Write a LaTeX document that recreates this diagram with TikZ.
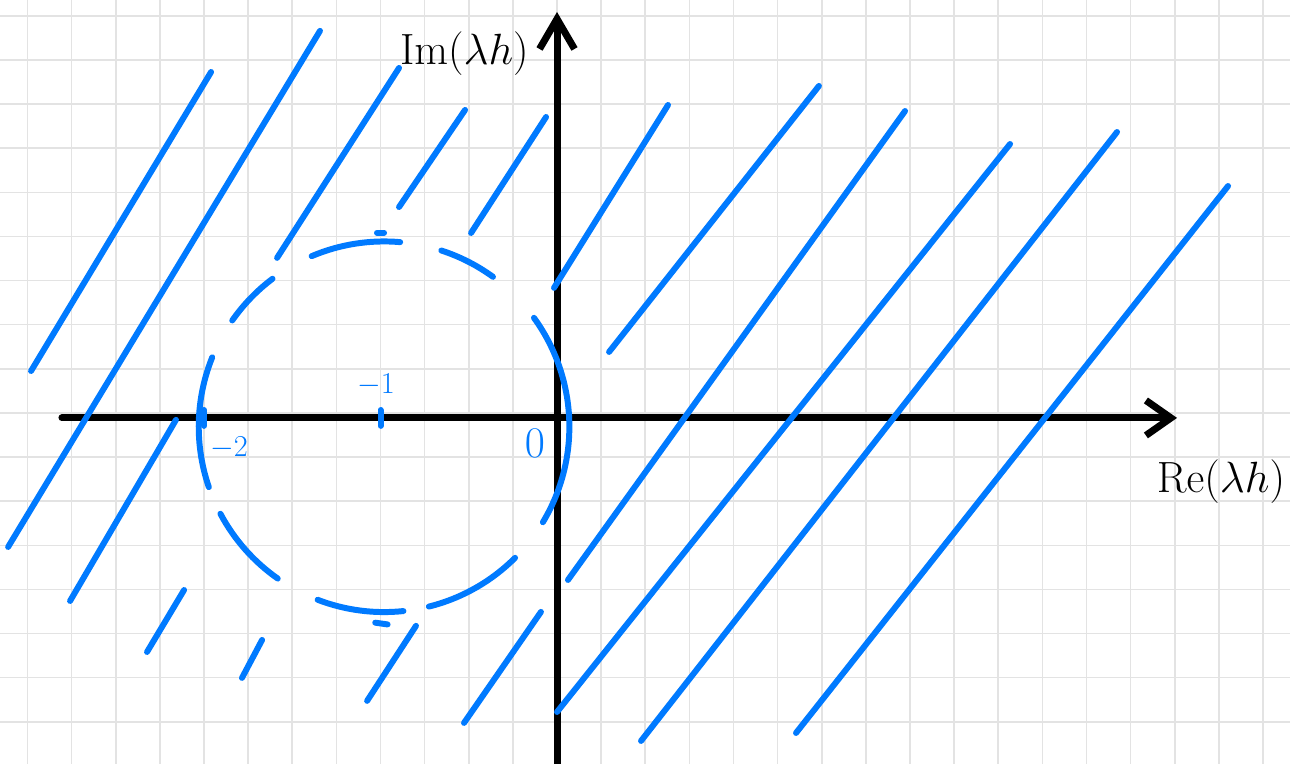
\documentclass[tikz,border=0pt]{standalone}
\usepackage{amsmath}
\usepackage{tikz}
\usepackage[dvipsnames]{xcolor}
\usetikzlibrary{arrows.meta}
\definecolor{penblue}{RGB}{0,122,255}

\begin{document}
\begin{tikzpicture}[x=3.53cm, y=3.53cm,
		hatch/.style={penblue, line width=3.4pt, line cap=round},
		axis/.style={black, line width=4pt, line cap=round}]
		\useasboundingbox (-3.156,-1.960) rectangle (4.153,2.368);
		\clip (-3.156,-1.960) rectangle (4.153,2.368);
		\fill[white] (-3.156,-1.960) rectangle (4.153,2.368);
		\begin{scope}[yshift=0.1cm]
			\draw[gray!22, line width=0.9pt, step=0.25] (-3.5,-2.25) grid (4.5,2.5);
		\end{scope}
		% axes
		\coordinate (west) at (-2.805,0);
		\coordinate (east) at (3.513,0);
		\coordinate (south) at (0,-1.99);
		\coordinate (north) at (0,2.30);
		\draw[axis, -{Straight Barb[length=5mm, width=7mm]}] (west) -- (east);
		\draw[axis, -{Straight Barb[length=6mm, width=7mm]}] (south) -- (north);
		\node[font=\fontsize{24}{28}\selectfont] (imlabel) at (-0.525,2.062) {$\mathrm{Im}(\lambda h)$};
		\node[font=\fontsize{24}{28}\selectfont] (relabel) at (3.762,-0.363) {$\mathrm{Re}(\lambda h)$};
		% hatching outside the circle
		\foreach \a/\b/\c/\d in {
				-2.980/0.266/-1.960/1.960, -3.110/-0.731/-1.343/2.193,
				-1.586/0.907/-0.895/1.983, -0.895/1.195/-0.521/1.745,
				-0.487/1.048/-0.062/1.705, -2.759/-1.037/-2.159/-0.011,
				-2.323/-1.326/-2.113/-0.975, -1.785/-1.473/-1.671/-1.258,
				-1.076/-1.603/-0.799/-1.178, -0.527/-1.728/-0.091/-1.099,
				-0.017/0.737/0.629/1.773, 0.295/0.374/1.484/1.881,
				0.062/-0.918/1.972/1.739, 0.000/-1.666/2.567/1.552,
				0.476/-1.830/3.173/1.620, 1.354/-1.785/3.802/1.314} {
				\draw[hatch] (\a,\b) -- (\c,\d);
			}
		% dashed circle |1 + lambda h| = 1
		\foreach \s/\e in {-31/36, 54/72, 85/113, 127/145, 158/199, 208/235, 249/276, 284/315} {
				\draw[hatch] (-0.98,-0.05) ++(\s:1.05) arc[start angle=\s, end angle=\e, radius=1.05];
			}
		\foreach \x in {-2,-1} {
				\draw[hatch] (\x,-0.045) -- (\x,0.045);
			}
		\draw[hatch] (-1.02,1.05) -- (-0.98,1.05);
		\draw[hatch] (-1.03,-1.16) -- (-0.96,-1.17);
		\node[penblue, font=\fontsize{17}{19}\selectfont] (mtwo) at (-1.858,-0.170) {$-2$};
		\node[penblue, font=\fontsize{17}{19}\selectfont] (mone) at (-1.025,0.187) {$-1$};
		\node[penblue, font=\fontsize{26}{28}\selectfont] (zero) at (-0.125,-0.142) {$0$};
	\end{tikzpicture}
\end{document}
